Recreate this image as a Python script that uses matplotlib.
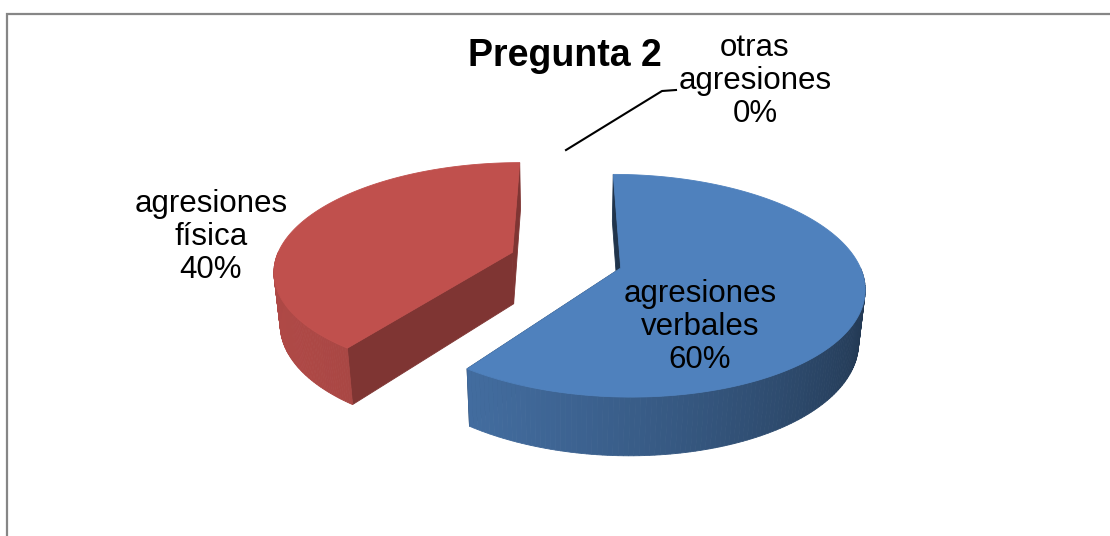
import numpy as np
import matplotlib.pyplot as plt
from matplotlib.patches import Polygon

# ==========================================================
# Datos
# ==========================================================

categorias = ['agresiones\nverbales', 'agresiones\nfísica', 'otras\nagresiones']
valores = [60, 40, 0]
colores = ['#4f81bd', '#c0504d', '#9bbb59']
titulo = 'Pregunta 2'

# posiciones de las etiquetas (centro del bloque de texto, en pixeles)
pos_etiquetas = [(700, 327), (211, 237), (755, 81)]

# ==========================================================
# Proyección 3D con perspectiva
# ==========================================================

W, H = 1110, 536
R = 232.0            # radio en pixeles
cx, cy = 566.0, 312.0
alfa = np.radians(28.8)
dist = 5.7
alto = 0.25
explota = 0.24


def proyectar(u, v, z):
    u = np.asarray(u, dtype=float)
    v = np.asarray(v, dtype=float)
    z = np.asarray(z, dtype=float)
    yc = -v*np.sin(alfa) + z*np.cos(alfa)
    w = v*np.cos(alfa) + z*np.sin(alfa)
    s = dist / (dist - w)
    return cx + R*u*s, cy - R*yc*s


def escalar(color, f):
    c = np.array(plt.matplotlib.colors.to_rgb(color))
    return tuple(np.clip(c*f, 0, 1))


def poligono(ax, X, Y, color, z):
    p = Polygon(np.column_stack([X, Y]), closed=True, facecolor=color,
                edgecolor=color, lw=0.6, zorder=z)
    ax.add_patch(p)


# ==========================================================
# Figura
# ==========================================================

fig = plt.figure(figsize=(11.1, 5.36), dpi=100)
ax = fig.add_axes([0, 0, 1, 1])
ax.set_xlim(0, W)
ax.set_ylim(H, 0)
ax.axis('off')

total = float(sum(valores))
inicio = np.cumsum([0] + valores[:-1]) / total * 360.0
fin = np.cumsum(valores) / total * 360.0

rebanadas = []
for i in range(len(valores)):
    medio = np.radians((inicio[i] + fin[i]) / 2)
    ou = explota*np.sin(medio)
    ov = -explota*np.cos(medio)
    rebanadas.append((ov, i, ou))

# dibujar de atrás hacia adelante
orden = sorted(rebanadas)

for k, (ov, i, ou) in enumerate(orden):
    if valores[i] <= 0:
        continue
    base = colores[i]
    zb = 10 + 5*k
    t = np.radians(np.linspace(inicio[i], fin[i], 200))
    ru = ou + np.sin(t)
    rv = ov - np.cos(t)

    # caras de corte
    for tb in [inicio[i], fin[i]]:
        tb = np.radians(tb)
        eu, ev = ou + np.sin(tb), ov - np.cos(tb)
        X1, Y1 = proyectar([ou, eu, eu, ou], [ov, ev, ev, ov],
                           [alto, alto, 0, 0])
        f = 0.66 if i == 1 else 0.4
        poligono(ax, X1, Y1, escalar(base, f), zb)

    # pared exterior (solo la parte visible)
    for j in range(len(t) - 1):
        tm = np.degrees((t[j] + t[j+1]) / 2) % 360
        if tm < 90 or tm > 270:
            continue
        luz = np.cos(np.radians(tm - 250))
        if i == 1:
            f = 0.74 + 0.17*luz
        else:
            f = 0.64 + 0.243*luz
        uu = [ru[j], ru[j+1], ru[j+1], ru[j]]
        vv = [rv[j], rv[j+1], rv[j+1], rv[j]]
        X2, Y2 = proyectar(uu, vv, [alto, alto, 0, 0])
        poligono(ax, X2, Y2, escalar(base, f), zb + 1)

    # cara superior
    X3, Y3 = proyectar(np.r_[ou, ru], np.r_[ov, rv],
                       np.full(len(ru) + 1, alto))
    poligono(ax, X3, Y3, base, zb + 2)

# ==========================================================
# Etiquetas
# ==========================================================

for i in range(len(valores)):
    pct = valores[i] / total * 100
    texto = f"{categorias[i]}\n{pct:.0f}%"
    px, py = pos_etiquetas[i]
    ax.text(px, py, texto, ha='center', va='center', fontsize=22.5,
            family='Liberation Sans', linespacing=1.14, zorder=40)

    if valores[i] == 0:
        # línea guía hacia la rebanada vacía
        tb = np.radians(inicio[i])
        au, av = np.sin(tb)*(1 + explota), -np.cos(tb)*(1 + explota)
        AX, AY = proyectar(au, av, alto)
        ax.plot([AX, px - 93, px - 79], [AY, py + 10, py + 9],
                color='black', lw=1.5, zorder=40)

ax.text(565, 56, titulo, ha='center', va='center', fontsize=27,
        fontweight='bold', family='Liberation Sans', zorder=40)

# marco
ax.plot([6.5, 6.5, W + 5], [H + 5, 13.5, 13.5], color='#868686',
        lw=1.6, solid_joinstyle='miter', zorder=50)

fig.savefig('out.png', dpi=100)
